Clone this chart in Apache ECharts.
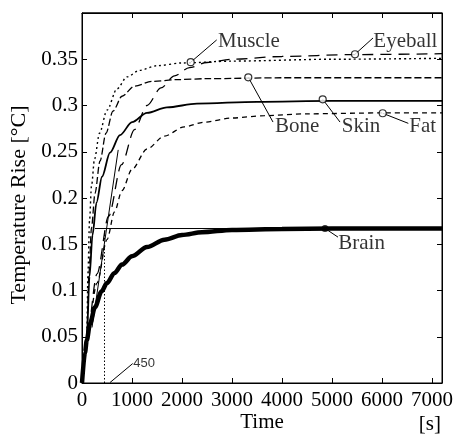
<!DOCTYPE html>
<html><head><meta charset="utf-8">
<script src="https://cdn.jsdelivr.net/npm/echarts@6/dist/echarts.min.js"></script>
<style>html,body{margin:0;padding:0;background:#fff}#c{width:456px;height:434px}</style>
</head><body><div id="c"></div>
<script>
// ---- data (time [s], temperature rise [°C]) ----
const xTickLabels = ['0','1000','2000','3000','4000','5000','6000','7000'];
const yTickLabels = ['0','0.05','0.1','0.15','0.2','0.25','0.3','0.35'];

const muscle = [[0,0],[95,0.048],[120,0.12],[150,0.175],[190,0.213],[250,0.242],[350,0.270],[500,0.295],[700,0.318],[900,0.331],[1150,0.338],[1500,0.343],[2000,0.346],[3000,0.348],[5000,0.350],[7200,0.351]];
const bone = [[0,0],[95,0.048],[140,0.12],[190,0.168],[260,0.205],[360,0.240],[480,0.270],[620,0.294],[800,0.310],[1050,0.321],[1400,0.326],[1900,0.328],[2500,0.329],[4000,0.330],[7200,0.330]];
const skin = [[0,0],[95,0.048],[150,0.115],[210,0.16],[290,0.195],[400,0.223],[560,0.249],[760,0.268],[1000,0.282],[1300,0.292],[1700,0.298],[2300,0.302],[3500,0.304],[5000,0.305],[7200,0.305]];
const eyeball = [[0,0],[95,0.048],[300,0.118],[530,0.180],[790,0.236],[1050,0.274],[1300,0.300],[1580,0.319],[1850,0.332],[2150,0.341],[2500,0.3465],[3000,0.350],[4000,0.353],[5400,0.355],[7200,0.356]];
const fat = [[0,0],[95,0.048],[300,0.108],[500,0.155],[650,0.185],[800,0.208],[1000,0.231],[1300,0.253],[1650,0.267],[2050,0.277],[2450,0.282],[3000,0.2865],[3650,0.289],[4500,0.291],[6000,0.292],[7200,0.292]];
const brain = [[0,0],[60,0.033],[95,0.046],[160,0.064],[260,0.082],[390,0.099],[500,0.108],[650,0.119],[800,0.128],[1000,0.137],[1300,0.147],[1650,0.155],[2000,0.160],[2400,0.163],[3000,0.1655],[4000,0.1665],[5000,0.167],[7200,0.167]];

// construction lines
const steadyLine = [[260,0.167],[7200,0.167]];
const timeConstLine = [[450,0],[450,0.167]];
const tangentLine = [[200,0.06],[724,0.252]];
const frameTop = [[0,0.4],[7200,0.4]];

// annotations
const annNames = ['Muscle','Eyeball','Bone','Skin','Fat','Brain'];
const annMarker = [[2174,0.3468],[5460,0.3554],[3326,0.3305],[4814,0.3067],[6014,0.2916],[4860,0.1671]];
const annLeaderEnd = [[2694,0.3709],[5820,0.3730],[3820,0.2821],[5160,0.2821],[6526,0.2807],[5120,0.1577]];
const annTextPos = [[2720,0.3690],[5826,0.3690],[3860,0.2778],[5194,0.2778],[6546,0.2778],[5126,0.1509]];
const tcLabel = '450';
const tcArrow = [[560,0.0005],[1014,0.021]];
const tcTextPos = [[1026,0.0216]];

const SERIF = 'Liberation Serif';
const black = '#000';

function curve(name, data, width, type) {
  return {name, type:'line', data, showSymbol:false, smooth:0.3, smoothMonotone:'x',
    lineStyle:{color:black, width, type}, silent:true, z:3};
}
function seg(data, width, type) {
  return {type:'line', data, showSymbol:false, lineStyle:{color:black, width, type}, silent:true, z:2};
}

const series = [
  curve('Fat', fat, 1.3, [5,4]),
  curve('Eyeball', eyeball, 1.3, [11,7]),
  curve('Skin', skin, 1.8, 'solid'),
  curve('Bone', bone, 1.3, [7,3]),
  curve('Muscle', muscle, 1.4, [2,3]),
  seg(steadyLine, 1, 'solid'),
  seg(timeConstLine, 1, [1.5,2]),
  seg(tangentLine, 1, 'solid'),
  Object.assign(seg(frameTop, 1.2, 'solid'), {clip:false, z:8}),
  Object.assign(curve('Brain', brain, 4.5, 'solid'), {z:4}),
];
annNames.forEach((n,i) => {
  series.push(seg([annMarker[i], annLeaderEnd[i]], 1, 'solid'));
});
series.push(seg(tcArrow, 1, 'solid'));
series.push({type:'scatter', data: annMarker.slice(0,5), symbol:'circle', symbolSize:7,
  itemStyle:{color:'#fff', borderColor:black, borderWidth:1.2}, z:6, silent:true});
series.push({type:'scatter', data: [annMarker[5]], symbol:'circle', symbolSize:7,
  itemStyle:{color:black}, z:6, silent:true});
series.push({type:'scatter', data: annTextPos.map((p,i)=>({value:p, name:annNames[i]})), symbolSize:0, z:7, silent:true,
  label:{show:true, position:'right', distance:0, formatter:p=>p.name, color:black, fontFamily:SERIF, fontSize:21}});
series.push({type:'scatter', data: tcTextPos.map(p=>({value:p, name:tcLabel})), symbolSize:0, z:7, silent:true,
  label:{show:true, position:'right', distance:0, formatter:p=>p.name, color:black, fontFamily:'Liberation Sans', fontSize:13}});

const axisCommon = {
  axisLine:{show:true, onZero:false, lineStyle:{color:black, width:1}},
  axisTick:{show:true, inside:true, length:5, lineStyle:{color:black}},
  splitLine:{show:false}
};

const option = {
  animation:false,
  backgroundColor:'#fff',
  grid:{left:82, right:14, top:13, bottom:51, containLabel:false, outerBoundsMode:'none',
    show:true, borderColor:black, borderWidth:1, backgroundColor:'transparent'},
  xAxis:[
    Object.assign({type:'value', min:0, max:7200, interval:1000, position:'bottom',
      name:'Time', nameLocation:'middle', nameGap:29, nameMoveOverlap:false,
      nameTextStyle:{fontFamily:SERIF, fontSize:21, color:black},
      axisLabel:{margin:7, fontFamily:SERIF, fontSize:21, color:black,
        formatter:v=>{const i=Math.round(v/1000); return (v%1000===0 && i<xTickLabels.length)? xTickLabels[i] : '';}, showMaxLabel:false}}, axisCommon),
    Object.assign({type:'value', min:0, max:7200, interval:1000, position:'top', axisLabel:{show:false}}, axisCommon)
  ],
  yAxis:[
    Object.assign({type:'value', min:0, max:0.4, interval:0.05, position:'left',
      name:'Temperature Rise [°C]', nameLocation:'middle', nameGap:52, nameRotate:90, nameMoveOverlap:false,
      nameTextStyle:{fontFamily:SERIF, fontSize:22, color:black, padding:[0,14,0,0]},
      axisLabel:{margin:4, fontFamily:SERIF, fontSize:21, color:black,
        formatter:v=>{const i=Math.round(v/0.05); return i<yTickLabels.length? yTickLabels[i] : '';}}}, axisCommon),
    Object.assign({type:'value', min:0, max:0.4, interval:0.05, position:'right', axisLabel:{show:false}}, axisCommon)
  ],
  graphic:[{type:'text', right:15, top:414, style:{text:'[s]', font:'21px "Liberation Serif"', fill:black}}],
  series
};
const chart = echarts.init(document.getElementById('c'), null, {renderer:'canvas'});
chart.setOption(option);
</script></body></html>
